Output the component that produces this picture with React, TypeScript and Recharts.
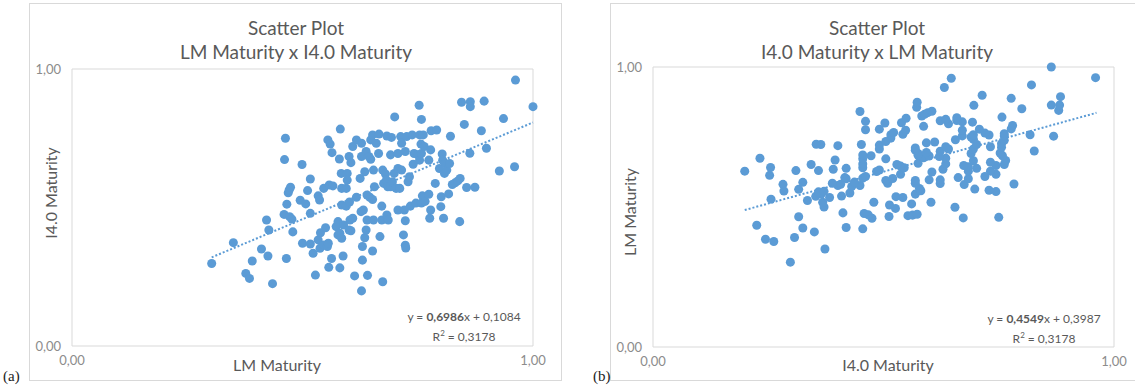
import React from "react";
import { ScatterChart, Scatter, XAxis, YAxis, ReferenceArea, ReferenceLine } from "recharts";

// LM maturity and I4.0 maturity per respondent (panel b is the same data swapped)
const lmMaturity = [
  0.303, 0.35, 0.377, 0.385, 0.391, 0.411, 0.422, 0.425, 0.427, 0.435, 0.463, 0.461, 0.46, 0.465, 0.466, 0.469,
  0.471, 0.474, 0.472, 0.477, 0.479, 0.499, 0.495, 0.507, 0.5, 0.511, 0.517, 0.517, 0.517, 0.523, 0.528, 0.534,
  0.537, 0.534, 0.539, 0.538, 0.546, 0.55, 0.554, 0.556, 0.557, 0.546, 0.558, 0.566, 0.563, 0.555, 0.56, 0.564,
  0.573, 0.577, 0.577, 0.581, 0.582, 0.58, 0.584, 0.585, 0.585, 0.581, 0.585, 0.588, 0.589, 0.595, 0.597, 0.597,
  0.595, 0.601, 0.602, 0.601, 0.603, 0.605, 0.605, 0.609, 0.609, 0.613, 0.617, 0.617, 0.625, 0.628, 0.628, 0.627,
  0.63, 0.63, 0.628, 0.632, 0.635, 0.635, 0.638, 0.638, 0.64, 0.64, 0.641, 0.644, 0.648, 0.646, 0.648, 0.652,
  0.652, 0.654, 0.654, 0.656, 0.652, 0.66, 0.665, 0.666, 0.668, 0.672, 0.672, 0.674, 0.674, 0.676, 0.68, 0.682,
  0.683, 0.685, 0.683, 0.686, 0.691, 0.691, 0.693, 0.695, 0.699, 0.7, 0.703, 0.707, 0.707, 0.707, 0.711, 0.713,
  0.715, 0.715, 0.719, 0.721, 0.723, 0.724, 0.723, 0.723, 0.726, 0.729, 0.732, 0.734, 0.738, 0.74, 0.742, 0.746,
  0.75, 0.753, 0.754, 0.754, 0.757, 0.758, 0.758, 0.758, 0.76, 0.762, 0.764, 0.766, 0.774, 0.774, 0.776, 0.778,
  0.778, 0.779, 0.788, 0.791, 0.797, 0.8, 0.801, 0.803, 0.804, 0.808, 0.806, 0.809, 0.813, 0.817, 0.819, 0.821,
  0.825, 0.831, 0.837, 0.842, 0.841, 0.845, 0.851, 0.856, 0.863, 0.864, 0.864, 0.874, 0.888, 0.894, 0.899, 0.927,
  0.936, 0.96, 0.962, 1.0,
];
const i40Maturity = [
  0.298, 0.373, 0.262, 0.244, 0.307, 0.35, 0.455, 0.325, 0.419, 0.225, 0.75, 0.673, 0.475, 0.316, 0.512, 0.553,
  0.563, 0.573, 0.467, 0.458, 0.412, 0.655, 0.526, 0.513, 0.371, 0.561, 0.603, 0.479, 0.368, 0.335, 0.256, 0.542,
  0.527, 0.383, 0.409, 0.353, 0.365, 0.427, 0.359, 0.371, 0.284, 0.569, 0.581, 0.578, 0.316, 0.744, 0.729, 0.698,
  0.431, 0.449, 0.401, 0.407, 0.783, 0.675, 0.623, 0.569, 0.509, 0.282, 0.389, 0.325, 0.437, 0.569, 0.623, 0.599,
  0.505, 0.684, 0.52, 0.419, 0.455, 0.662, 0.416, 0.72, 0.461, 0.253, 0.744, 0.537, 0.605, 0.732, 0.684, 0.485,
  0.359, 0.31, 0.199, 0.491, 0.629, 0.391, 0.419, 0.702, 0.545, 0.455, 0.255, 0.684, 0.744, 0.537, 0.674, 0.762,
  0.529, 0.455, 0.635, 0.575, 0.343, 0.732, 0.695, 0.765, 0.395, 0.505, 0.455, 0.232, 0.635, 0.587, 0.621, 0.599,
  0.758, 0.575, 0.473, 0.455, 0.69, 0.575, 0.753, 0.593, 0.623, 0.827, 0.569, 0.491, 0.695, 0.641, 0.569, 0.756,
  0.732, 0.635, 0.401, 0.491, 0.364, 0.354, 0.452, 0.702, 0.756, 0.593, 0.611, 0.505, 0.762, 0.656, 0.695, 0.516,
  0.69, 0.869, 0.762, 0.671, 0.729, 0.818, 0.516, 0.695, 0.542, 0.762, 0.72, 0.522, 0.671, 0.548, 0.461, 0.708,
  0.491, 0.777, 0.587, 0.78, 0.641, 0.503, 0.539, 0.693, 0.671, 0.623, 0.461, 0.659, 0.635, 0.549, 0.659, 0.757,
  0.583, 0.589, 0.596, 0.605, 0.449, 0.88, 0.8, 0.572, 0.696, 0.882, 0.864, 0.573, 0.777, 0.884, 0.714, 0.632,
  0.821, 0.647, 0.96, 0.864,
];

// linear trend lines as shown (end points of the fitted line)
const trendA = [{ x: 0.303, y: 0.3201 }, { x: 1.0, y: 0.807 }];
const trendB = [{ x: 0.199, y: 0.4892 }, { x: 0.962, y: 0.8363 }];
const axisTicks = [0, 1];

const pointsA = lmMaturity.map((v, i) => ({ x: v, y: i40Maturity[i] }));
const pointsB = i40Maturity.map((v, i) => ({ x: v, y: lmMaturity[i] }));

const BLUE = "#5B9BD5";
const FONT = "Lato, 'Open Sans', sans-serif";
const fmt = (v: number) => v.toFixed(2).replace(".", ",");

type PanelProps = {
  left: number;
  data: { x: number; y: number }[];
  trend: { x: number; y: number }[];
  margin: { top: number; left: number; right: number; bottom: number };
  title: string;
  titleX: number;
  xTitle: string;
  xTitleX: number;
  yTitle: string;
  yTitleX: number;
  yTitleY: number;
  slope: string;
  intercept: string;
  eqX: number;
  eqY: number;
  frameLeft: number;
  frameWidth: number;
  tag: string;
  tagX: number;
};

function Panel(p: PanelProps) {
  const tickStyle = { fontSize: 13, fill: "#8c8c8c", fontFamily: FONT };
  return (
    <div style={{ position: "absolute", left: p.left, top: 0, width: 567, height: 387 }}>
      <div style={{ position: "absolute", left: p.frameLeft, top: 3, width: p.frameWidth, height: 378, border: "1px solid #d9d9d9", boxSizing: "border-box" }} />
      <div style={{ position: "absolute", left: 0, top: 0 }}>
        <ScatterChart width={567} height={387} margin={p.margin}>
          <XAxis type="number" dataKey="x" domain={[0, 1]} ticks={axisTicks} tickFormatter={fmt} height={30} axisLine={false} tickLine={false} tickSize={0} tickMargin={10} tick={tickStyle} />
          <YAxis type="number" dataKey="y" domain={[0, 1]} ticks={axisTicks} tickFormatter={fmt} width={40} axisLine={false} tickLine={false} tickSize={0} tickMargin={11} tick={tickStyle} />
          <ReferenceArea x1={0} x2={1} y1={0} y2={1} fill="none" stroke="#d9d9d9" strokeWidth={1} />
          <Scatter data={p.data} fill={BLUE} shape="circle" isAnimationActive={false} />
          <ReferenceLine segment={p.trend} stroke={BLUE} strokeWidth={2} strokeDasharray="2 2" />
        </ScatterChart>
      </div>
      <div style={{ position: "absolute", left: p.titleX - 200, width: 400, top: 16, textAlign: "center", fontFamily: FONT, color: "#595959", fontSize: 19, lineHeight: "24px" }}>
        Scatter Plot
        <br />
        {p.title}
      </div>
      <div style={{ position: "absolute", left: p.xTitleX - 200, width: 400, top: 355, textAlign: "center", fontFamily: FONT, color: "#595959", fontSize: 16, lineHeight: "20px" }}>
        {p.xTitle}
      </div>
      <div style={{ position: "absolute", left: p.yTitleX - 100, top: p.yTitleY - 10, width: 200, height: 20, textAlign: "center", fontFamily: FONT, color: "#595959", fontSize: 16, lineHeight: "20px", transform: "rotate(-90deg)" }}>
        {p.yTitle}
      </div>
      <div style={{ position: "absolute", left: p.eqX - 100, top: p.eqY, width: 200, textAlign: "center", fontFamily: FONT, color: "#595959", fontSize: 12, lineHeight: "16px" }}>
        y = <b>{p.slope}</b>x + {p.intercept}
        <br />
        R<sup style={{ fontSize: 8 }}>2</sup> = 0,3178
      </div>
      <div style={{ position: "absolute", left: p.tagX, top: 368, fontFamily: "'Liberation Serif', serif", fontSize: 15, color: "#222" }}>{p.tag}</div>
    </div>
  );
}

export default function App() {
  return (
    <div style={{ position: "absolute", left: 0, top: 0, width: 1135, height: 387, background: "#fff", overflow: "hidden" }}>
      <Panel
        left={0}
        data={pointsA}
        trend={trendA}
        margin={{ top: 69, left: 32, right: 34, bottom: 11 }}
        title="LM Maturity x I4.0 Maturity"
        titleX={296}
        xTitle="LM Maturity"
        xTitleX={277}
        yTitle="I4.0 Maturity"
        yTitleX={51}
        yTitleY={193}
        slope="0,6986"
        intercept="0,1084"
        eqX={464}
        eqY={309}
        frameLeft={29}
        frameWidth={533}
        tag="(a)"
        tagX={3}
      />
      <Panel
        left={568}
        data={pointsB}
        trend={trendB}
        margin={{ top: 67, left: 45, right: 21, bottom: 10 }}
        title="I4.0 Maturity x LM Maturity"
        titleX={309}
        xTitle="I4.0 Maturity"
        xTitleX={320}
        yTitle="LM Maturity"
        yTitleX={62}
        yTitleY={212}
        slope="0,4549"
        intercept="0,3987"
        eqX={476}
        eqY={311}
        frameLeft={42}
        frameWidth={540}
        tag="(b)"
        tagX={25}
      />
    </div>
  );
}
